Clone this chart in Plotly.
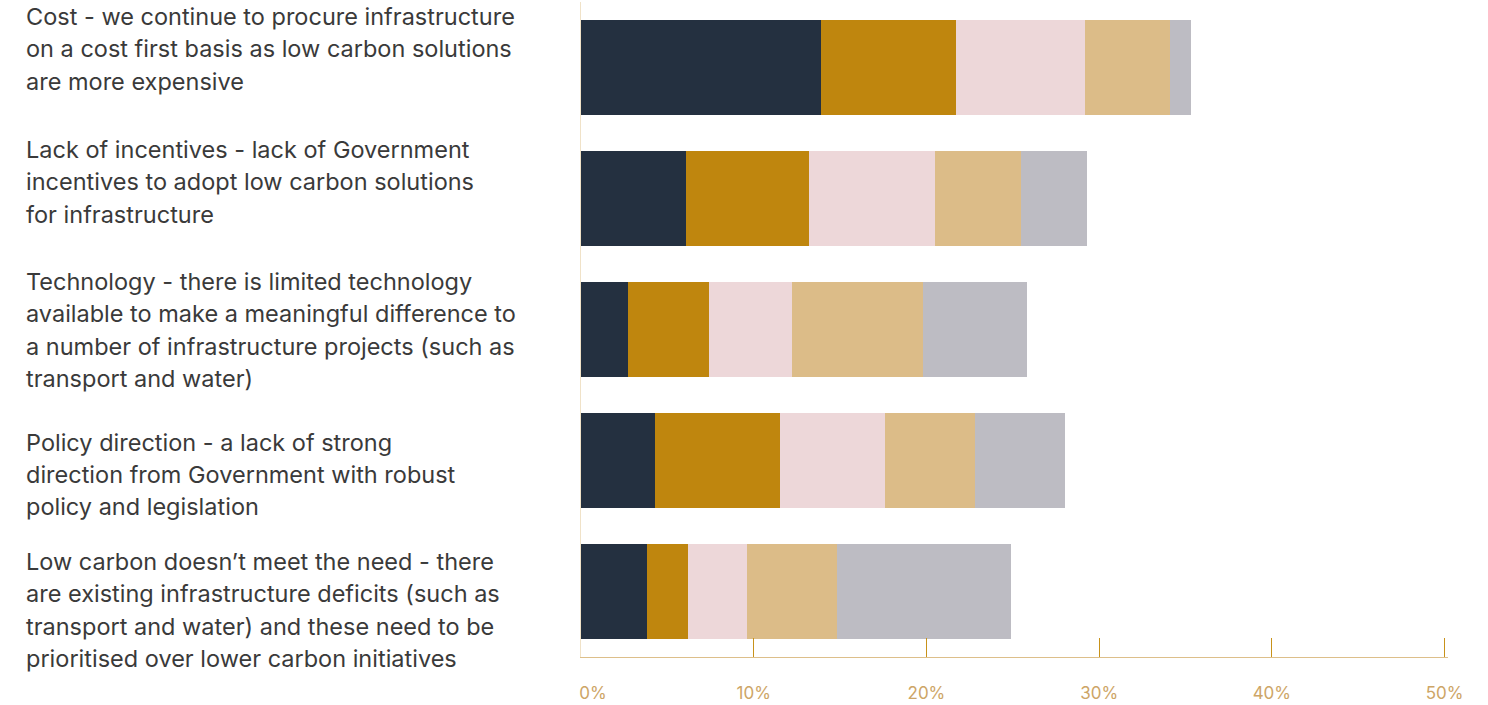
import plotly.graph_objects as go

# Barrier statements (one entry per bar, split into display lines)
barrier_lines = [
    ["Cost - we continue to procure infrastructure",
     "on a cost first basis as low carbon solutions",
     "are more expensive"],
    ["Lack of incentives - lack of Government",
     "incentives to adopt low carbon solutions",
     "for infrastructure"],
    ["Technology - there is limited technology",
     "available to make a meaningful difference to",
     "a number of infrastructure projects (such as",
     "transport and water)"],
    ["Policy direction - a lack of strong",
     "direction from Government with robust",
     "policy and legislation"],
    ["Low carbon doesn\u2019t meet the need - there",
     "are existing infrastructure deficits (such as",
     "transport and water) and these need to be",
     "prioritised over lower carbon initiatives"],
]
categories = ["Cost", "Lack of incentives", "Technology", "Policy direction",
              "Low carbon doesn't meet the need"]

# Share of respondents (%) ranking each barrier 1st..5th
rank_1 = [13.9, 6.1, 2.7, 4.3, 3.8]
rank_2 = [7.8, 7.1, 4.7, 7.2, 2.4]
rank_3 = [7.5, 7.3, 4.8, 6.1, 3.4]
rank_4 = [4.9, 5.0, 7.6, 5.2, 5.2]
rank_5 = [1.2, 3.8, 6.0, 5.2, 10.1]

series_names = ["1st", "2nd", "3rd", "4th", "5th"]
series_values = [rank_1, rank_2, rank_3, rank_4, rank_5]
series_colors = ["#243040", "#BF860E", "#EDD7D9", "#DCBC88", "#BDBCC3"]

tick_values = [0, 10, 20, 30, 40, 50]
tick_labels = ["0%", "10%", "20%", "30%", "40%", "50%"]

fig = go.Figure()
for name, vals, col in zip(series_names, series_values, series_colors):
    fig.add_trace(go.Bar(
        y=categories, x=vals, name=name, orientation="h",
        marker=dict(color=col, line=dict(width=0)),
        hovertemplate="%{y}: %{x}%<extra>" + name + "</extra>",
    ))

# Left-hand statement text, one annotation per line
first_baseline_shift = [41.5, 39.5, 38.5, 9, 20.5]  # px above bar centre
line_step = 32.3
font_size = 23.5
annotations = []
for cat, lines, shift in zip(categories, barrier_lines, first_baseline_shift):
    for i, txt in enumerate(lines):
        baseline_offset = -shift + i * line_step
        annotations.append(dict(
            x=-0.6419, xref="paper", xanchor="left",
            y=cat, yref="y", yanchor="middle",
            yshift=-(baseline_offset - 9.5),
            text=txt, showarrow=False, align="left",
            font=dict(family="Inter", size=font_size, color="#3a3a3a"),
        ))

# first tick label sits just right of the axis origin
tick_text = ["\u00a0" * 5 + tick_labels[0]] + tick_labels[1:]

fig.update_layout(
    width=1488, height=705,
    margin=dict(l=581, r=39.5, t=2, b=48),
    barmode="stack", bargap=0.275,
    showlegend=False,
    plot_bgcolor="white", paper_bgcolor="white",
    annotations=annotations,
    xaxis=dict(
        range=[0, 50.2], tickvals=tick_values, ticktext=tick_text,
        ticks="inside", ticklen=19, tickwidth=1, tickcolor="#C8921A",
        showline=True, linecolor="#DDBF8A", linewidth=1,
        showgrid=False, zeroline=False,
        tickfont=dict(family="Inter", size=17, color="#CDA566"),
        ticklabelstandoff=21,
    ),
    yaxis=dict(
        autorange="reversed", showticklabels=False, ticks="",
        showline=True, linecolor="#F0E2C8", linewidth=1,
        showgrid=False, zeroline=False,
    ),
)

fig.write_html("out.html")
